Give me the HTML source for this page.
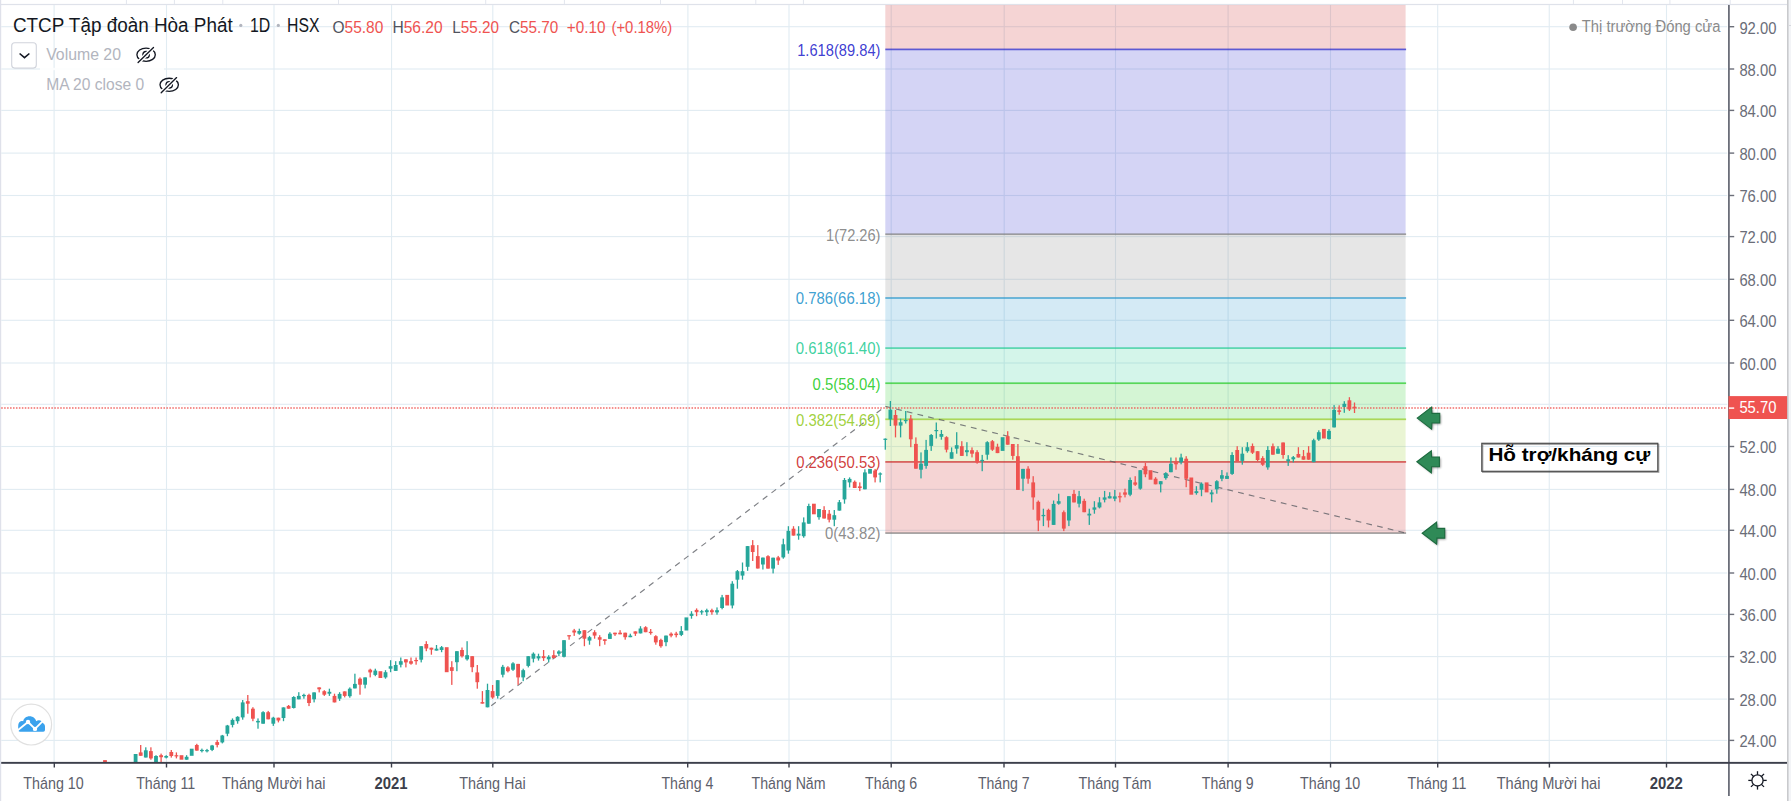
<!DOCTYPE html>
<html><head><meta charset="utf-8"><title>HPG chart</title>
<style>html,body{margin:0;padding:0;background:#fff;}body{width:1791px;height:801px;overflow:hidden;font-family:"Liberation Sans", sans-serif;}svg{display:block;}</style>
</head><body>
<svg width="1791" height="801" viewBox="0 0 1791 801">
<defs><clipPath id="plotclip"><rect x="1.2" y="5" width="1726.8" height="756.9"/></clipPath><filter id="blur1" x="-30%" y="-30%" width="160%" height="160%"><feGaussianBlur stdDeviation="1.1"/></filter><filter id="blur05" x="-10%" y="-30%" width="120%" height="160%"><feGaussianBlur stdDeviation="0.6"/></filter></defs>
<rect x="0" y="0" width="1791" height="801" fill="#ffffff"/>
<rect x="1787" y="0" width="4" height="801" fill="#f3f4f7"/>
<rect x="1787" y="0" width="1.6" height="801" fill="#c9cacd"/>
<line x1="1789" y1="25.5" x2="1791" y2="25.5" stroke="#d6d8de" stroke-width="1"/>
<rect x="0" y="3.9" width="1787" height="1.2" fill="#dfe2ea"/>
<rect x="125.9" y="0" width="1" height="4" fill="#e3e6ee"/>
<rect x="173.9" y="0" width="1" height="4" fill="#e3e6ee"/>
<rect x="222.3" y="0" width="1" height="4" fill="#e3e6ee"/>
<rect x="338.0" y="0" width="1" height="4" fill="#e3e6ee"/>
<rect x="485.2" y="0" width="1" height="4" fill="#e3e6ee"/>
<rect x="563.9" y="0" width="1" height="4" fill="#e3e6ee"/>
<rect x="660.0" y="0" width="1" height="4" fill="#e3e6ee"/>
<rect x="755.3" y="0" width="1" height="4" fill="#e3e6ee"/>
<rect x="802.9" y="0" width="1" height="4" fill="#e3e6ee"/>
<rect x="1572.9" y="0" width="1" height="4" fill="#e3e6ee"/>
<rect x="1622.0" y="0" width="1" height="4" fill="#e3e6ee"/>
<rect x="1669.4" y="0" width="1" height="4" fill="#e3e6ee"/>
<rect x="1729.7" y="0" width="1" height="4" fill="#e3e6ee"/>
<rect x="0" y="0" width="1.2" height="801" fill="#dfe1ea"/>
<rect x="53.55" y="5" width="1.1" height="757.5" fill="#e1ecf2"/>
<rect x="165.95" y="5" width="1.1" height="757.5" fill="#e1ecf2"/>
<rect x="273.45" y="5" width="1.1" height="757.5" fill="#e1ecf2"/>
<rect x="391.00" y="5" width="1.1" height="757.5" fill="#e1ecf2"/>
<rect x="492.25" y="5" width="1.1" height="757.5" fill="#e1ecf2"/>
<rect x="687.35" y="5" width="1.1" height="757.5" fill="#e1ecf2"/>
<rect x="788.45" y="5" width="1.1" height="757.5" fill="#e1ecf2"/>
<rect x="890.65" y="5" width="1.1" height="757.5" fill="#e1ecf2"/>
<rect x="1003.65" y="5" width="1.1" height="757.5" fill="#e1ecf2"/>
<rect x="1114.95" y="5" width="1.1" height="757.5" fill="#e1ecf2"/>
<rect x="1227.55" y="5" width="1.1" height="757.5" fill="#e1ecf2"/>
<rect x="1329.95" y="5" width="1.1" height="757.5" fill="#e1ecf2"/>
<rect x="1437.15" y="5" width="1.1" height="757.5" fill="#e1ecf2"/>
<rect x="1548.70" y="5" width="1.1" height="757.5" fill="#e1ecf2"/>
<rect x="1665.95" y="5" width="1.1" height="757.5" fill="#e1ecf2"/>
<rect x="1.2" y="26.15" width="1726" height="1.1" fill="#e1ecf2"/>
<rect x="1.2" y="68.45" width="1726" height="1.1" fill="#e1ecf2"/>
<rect x="1.2" y="109.85" width="1726" height="1.1" fill="#e1ecf2"/>
<rect x="1.2" y="152.55" width="1726" height="1.1" fill="#e1ecf2"/>
<rect x="1.2" y="194.95" width="1726" height="1.1" fill="#e1ecf2"/>
<rect x="1.2" y="236.05" width="1726" height="1.1" fill="#e1ecf2"/>
<rect x="1.2" y="278.75" width="1726" height="1.1" fill="#e1ecf2"/>
<rect x="1.2" y="319.75" width="1726" height="1.1" fill="#e1ecf2"/>
<rect x="1.2" y="362.45" width="1726" height="1.1" fill="#e1ecf2"/>
<rect x="1.2" y="403.75" width="1726" height="1.1" fill="#e1ecf2"/>
<rect x="1.2" y="445.95" width="1726" height="1.1" fill="#e1ecf2"/>
<rect x="1.2" y="488.85" width="1726" height="1.1" fill="#e1ecf2"/>
<rect x="1.2" y="529.75" width="1726" height="1.1" fill="#e1ecf2"/>
<rect x="1.2" y="572.45" width="1726" height="1.1" fill="#e1ecf2"/>
<rect x="1.2" y="613.85" width="1726" height="1.1" fill="#e1ecf2"/>
<rect x="1.2" y="656.05" width="1726" height="1.1" fill="#e1ecf2"/>
<rect x="1.2" y="698.55" width="1726" height="1.1" fill="#e1ecf2"/>
<rect x="1.2" y="739.85" width="1726" height="1.1" fill="#e1ecf2"/>
<rect x="885.3" y="5.0" width="520.3" height="44.4" fill="#cc2828" fill-opacity="0.2"/>
<rect x="885.3" y="49.4" width="520.3" height="184.8" fill="#2828cc" fill-opacity="0.2"/>
<rect x="885.3" y="234.2" width="520.3" height="63.8" fill="#808080" fill-opacity="0.2"/>
<rect x="885.3" y="298.0" width="520.3" height="50.1" fill="#2895cc" fill-opacity="0.2"/>
<rect x="885.3" y="348.1" width="520.3" height="35.1" fill="#28cc95" fill-opacity="0.2"/>
<rect x="885.3" y="383.2" width="520.3" height="36.1" fill="#28cc28" fill-opacity="0.2"/>
<rect x="885.3" y="419.3" width="520.3" height="42.6" fill="#95cc28" fill-opacity="0.2"/>
<rect x="885.3" y="461.9" width="520.3" height="71.2" fill="#cc2828" fill-opacity="0.2"/>
<rect x="885.3" y="48.55" width="520.8" height="1.7" fill="#2828cc" fill-opacity="0.72"/>
<rect x="885.3" y="233.35" width="520.8" height="1.7" fill="#808080" fill-opacity="0.72"/>
<rect x="885.3" y="297.15" width="520.8" height="1.7" fill="#2895cc" fill-opacity="0.72"/>
<rect x="885.3" y="347.25" width="520.8" height="1.7" fill="#28cc95" fill-opacity="0.72"/>
<rect x="885.3" y="382.35" width="520.8" height="1.7" fill="#28cc28" fill-opacity="0.72"/>
<rect x="885.3" y="418.45" width="520.8" height="1.7" fill="#95cc28" fill-opacity="0.72"/>
<rect x="885.3" y="461.05" width="520.8" height="1.7" fill="#cc2828" fill-opacity="0.72"/>
<rect x="885.3" y="532.25" width="520.8" height="1.7" fill="#808080" fill-opacity="0.72"/>
<polyline points="491.2,705.8 885.3,406.4 1405.6,533.0" fill="none" stroke="#5a5c63" stroke-width="1.15" stroke-dasharray="5.8 5.2" stroke-opacity="0.78"/>
<g clip-path="url(#plotclip)"><rect x="103.10" y="760.1" width="3.8" height="9.9" fill="#ef5350"/><rect x="133.70" y="754.0" width="3.8" height="16.0" fill="#26a69a"/><rect x="140.05" y="745.0" width="1.3" height="10.8" fill="#ef5350"/><rect x="138.80" y="752.4" width="3.8" height="3.4" fill="#ef5350"/><rect x="145.15" y="747.3" width="1.3" height="10.2" fill="#26a69a"/><rect x="143.90" y="750.3" width="3.8" height="7.2" fill="#26a69a"/><rect x="150.25" y="747.3" width="1.3" height="12.4" fill="#ef5350"/><rect x="149.00" y="751.1" width="3.8" height="7.3" fill="#ef5350"/><rect x="155.35" y="755.2" width="1.3" height="14.8" fill="#26a69a"/><rect x="154.10" y="756.0" width="3.8" height="14.0" fill="#26a69a"/><rect x="160.45" y="753.6" width="1.3" height="8.4" fill="#ef5350"/><rect x="159.20" y="755.2" width="3.8" height="2.0" fill="#ef5350"/><rect x="165.55" y="755.2" width="1.3" height="3.2" fill="#26a69a"/><rect x="164.30" y="756.0" width="3.8" height="1.6" fill="#26a69a"/><rect x="170.65" y="750.0" width="1.3" height="7.6" fill="#ef5350"/><rect x="169.40" y="752.0" width="3.8" height="4.0" fill="#ef5350"/><rect x="175.75" y="752.4" width="1.3" height="6.0" fill="#ef5350"/><rect x="174.50" y="755.2" width="3.8" height="1.2" fill="#ef5350"/><rect x="179.60" y="755.2" width="3.8" height="4.5" fill="#ef5350"/><rect x="185.95" y="755.2" width="1.3" height="4.5" fill="#26a69a"/><rect x="184.70" y="756.8" width="3.8" height="2.9" fill="#26a69a"/><rect x="189.80" y="748.7" width="3.8" height="7.1" fill="#26a69a"/><rect x="196.15" y="743.8" width="1.3" height="6.9" fill="#ef5350"/><rect x="194.90" y="745.0" width="3.8" height="5.6" fill="#ef5350"/><rect x="201.25" y="748.6" width="1.3" height="3.8" fill="#26a69a"/><rect x="200.00" y="749.9" width="3.8" height="1.2" fill="#26a69a"/><rect x="206.35" y="748.9" width="1.3" height="3.5" fill="#26a69a"/><rect x="205.10" y="750.1" width="3.8" height="1.2" fill="#26a69a"/><rect x="211.45" y="744.9" width="1.3" height="6.2" fill="#26a69a"/><rect x="210.20" y="745.5" width="3.8" height="4.4" fill="#26a69a"/><rect x="216.55" y="739.9" width="1.3" height="7.5" fill="#ef5350"/><rect x="215.30" y="742.1" width="3.8" height="2.8" fill="#ef5350"/><rect x="221.65" y="734.9" width="1.3" height="8.5" fill="#26a69a"/><rect x="220.40" y="735.5" width="3.8" height="6.9" fill="#26a69a"/><rect x="226.75" y="724.9" width="1.3" height="11.3" fill="#26a69a"/><rect x="225.50" y="725.5" width="3.8" height="8.2" fill="#26a69a"/><rect x="231.85" y="718.4" width="1.3" height="9.0" fill="#26a69a"/><rect x="230.60" y="719.9" width="3.8" height="5.0" fill="#26a69a"/><rect x="236.95" y="716.2" width="1.3" height="7.5" fill="#26a69a"/><rect x="235.70" y="716.8" width="3.8" height="4.4" fill="#26a69a"/><rect x="242.05" y="700.0" width="1.3" height="19.7" fill="#26a69a"/><rect x="240.80" y="702.4" width="3.8" height="15.0" fill="#26a69a"/><rect x="247.15" y="695.0" width="1.3" height="18.7" fill="#ef5350"/><rect x="245.90" y="701.2" width="3.8" height="2.5" fill="#ef5350"/><rect x="252.25" y="707.2" width="1.3" height="14.0" fill="#ef5350"/><rect x="251.00" y="708.7" width="3.8" height="10.0" fill="#ef5350"/><rect x="257.35" y="718.4" width="1.3" height="10.3" fill="#26a69a"/><rect x="256.10" y="720.9" width="3.8" height="1.5" fill="#26a69a"/><rect x="262.45" y="711.2" width="1.3" height="12.5" fill="#26a69a"/><rect x="261.20" y="712.2" width="3.8" height="11.5" fill="#26a69a"/><rect x="267.55" y="710.9" width="1.3" height="8.4" fill="#ef5350"/><rect x="266.30" y="712.2" width="3.8" height="7.1" fill="#ef5350"/><rect x="272.65" y="716.8" width="1.3" height="9.1" fill="#26a69a"/><rect x="271.40" y="717.7" width="3.8" height="6.0" fill="#26a69a"/><rect x="277.75" y="717.7" width="1.3" height="4.7" fill="#ef5350"/><rect x="276.50" y="717.7" width="3.8" height="2.8" fill="#ef5350"/><rect x="282.85" y="707.4" width="1.3" height="13.8" fill="#26a69a"/><rect x="281.60" y="707.4" width="3.8" height="10.6" fill="#26a69a"/><rect x="287.95" y="705.0" width="1.3" height="3.7" fill="#ef5350"/><rect x="286.70" y="705.9" width="3.8" height="2.8" fill="#ef5350"/><rect x="293.05" y="696.2" width="1.3" height="12.3" fill="#26a69a"/><rect x="291.80" y="697.0" width="3.8" height="11.0" fill="#26a69a"/><rect x="298.15" y="692.2" width="1.3" height="7.1" fill="#26a69a"/><rect x="296.90" y="695.9" width="3.8" height="3.4" fill="#26a69a"/><rect x="303.25" y="693.7" width="1.3" height="5.0" fill="#26a69a"/><rect x="302.00" y="694.9" width="3.8" height="1.3" fill="#26a69a"/><rect x="308.35" y="693.7" width="1.3" height="12.4" fill="#ef5350"/><rect x="307.10" y="694.9" width="3.8" height="8.1" fill="#ef5350"/><rect x="313.45" y="692.4" width="1.3" height="10.0" fill="#26a69a"/><rect x="312.20" y="692.4" width="3.8" height="6.9" fill="#26a69a"/><rect x="318.55" y="687.4" width="1.3" height="5.0" fill="#ef5350"/><rect x="317.30" y="687.4" width="3.8" height="1.9" fill="#ef5350"/><rect x="323.65" y="690.2" width="1.3" height="5.7" fill="#ef5350"/><rect x="322.40" y="691.2" width="3.8" height="3.5" fill="#ef5350"/><rect x="328.75" y="688.7" width="1.3" height="7.2" fill="#26a69a"/><rect x="327.50" y="691.8" width="3.8" height="1.9" fill="#26a69a"/><rect x="333.85" y="693.7" width="1.3" height="8.7" fill="#ef5350"/><rect x="332.60" y="695.9" width="3.8" height="6.5" fill="#ef5350"/><rect x="338.95" y="692.2" width="1.3" height="8.7" fill="#26a69a"/><rect x="337.70" y="693.9" width="3.8" height="4.8" fill="#26a69a"/><rect x="344.05" y="691.4" width="1.3" height="6.0" fill="#ef5350"/><rect x="342.80" y="691.4" width="3.8" height="4.5" fill="#ef5350"/><rect x="349.15" y="687.4" width="1.3" height="10.3" fill="#26a69a"/><rect x="347.90" y="688.7" width="3.8" height="7.5" fill="#26a69a"/><rect x="354.25" y="673.7" width="1.3" height="14.7" fill="#26a69a"/><rect x="353.00" y="683.9" width="3.8" height="4.5" fill="#26a69a"/><rect x="359.35" y="677.4" width="1.3" height="17.3" fill="#ef5350"/><rect x="358.10" y="678.7" width="3.8" height="6.0" fill="#ef5350"/><rect x="364.45" y="677.4" width="1.3" height="11.0" fill="#26a69a"/><rect x="363.20" y="677.4" width="3.8" height="7.3" fill="#26a69a"/><rect x="369.55" y="668.7" width="1.3" height="8.7" fill="#ef5350"/><rect x="368.30" y="669.7" width="3.8" height="2.7" fill="#ef5350"/><rect x="374.65" y="668.7" width="1.3" height="7.5" fill="#26a69a"/><rect x="373.40" y="670.6" width="3.8" height="4.3" fill="#26a69a"/><rect x="378.50" y="671.2" width="3.8" height="6.8" fill="#ef5350"/><rect x="384.85" y="670.2" width="1.3" height="8.5" fill="#26a69a"/><rect x="383.60" y="672.2" width="3.8" height="5.2" fill="#26a69a"/><rect x="389.95" y="660.2" width="1.3" height="12.0" fill="#26a69a"/><rect x="388.70" y="666.2" width="3.8" height="2.5" fill="#26a69a"/><rect x="395.05" y="661.2" width="1.3" height="9.7" fill="#26a69a"/><rect x="393.80" y="665.0" width="3.8" height="5.9" fill="#26a69a"/><rect x="400.15" y="657.5" width="1.3" height="9.9" fill="#26a69a"/><rect x="398.90" y="661.2" width="3.8" height="3.5" fill="#26a69a"/><rect x="405.25" y="659.3" width="1.3" height="8.1" fill="#ef5350"/><rect x="404.00" y="659.3" width="3.8" height="3.1" fill="#ef5350"/><rect x="410.35" y="657.5" width="1.3" height="7.2" fill="#ef5350"/><rect x="409.10" y="661.2" width="3.8" height="2.5" fill="#ef5350"/><rect x="415.45" y="657.5" width="1.3" height="7.2" fill="#ef5350"/><rect x="414.20" y="660.0" width="3.8" height="1.2" fill="#ef5350"/><rect x="420.55" y="646.2" width="1.3" height="16.2" fill="#26a69a"/><rect x="419.30" y="646.2" width="3.8" height="13.5" fill="#26a69a"/><rect x="425.65" y="641.2" width="1.3" height="10.0" fill="#ef5350"/><rect x="424.40" y="644.0" width="3.8" height="4.5" fill="#ef5350"/><rect x="430.75" y="647.7" width="1.3" height="7.0" fill="#ef5350"/><rect x="429.50" y="647.7" width="3.8" height="2.0" fill="#ef5350"/><rect x="435.85" y="645.0" width="1.3" height="5.6" fill="#26a69a"/><rect x="434.60" y="648.7" width="3.8" height="1.9" fill="#26a69a"/><rect x="440.95" y="646.0" width="1.3" height="6.2" fill="#26a69a"/><rect x="439.70" y="647.2" width="3.8" height="2.8" fill="#26a69a"/><rect x="444.80" y="647.2" width="3.8" height="25.0" fill="#ef5350"/><rect x="451.15" y="661.2" width="1.3" height="23.7" fill="#ef5350"/><rect x="449.90" y="667.2" width="3.8" height="3.7" fill="#ef5350"/><rect x="456.25" y="651.2" width="1.3" height="20.0" fill="#26a69a"/><rect x="455.00" y="651.2" width="3.8" height="11.0" fill="#26a69a"/><rect x="461.35" y="647.5" width="1.3" height="10.0" fill="#ef5350"/><rect x="460.10" y="650.0" width="3.8" height="6.2" fill="#ef5350"/><rect x="466.45" y="641.2" width="1.3" height="19.4" fill="#26a69a"/><rect x="465.20" y="655.2" width="3.8" height="4.1" fill="#26a69a"/><rect x="471.55" y="656.2" width="1.3" height="16.0" fill="#ef5350"/><rect x="470.30" y="656.2" width="3.8" height="11.0" fill="#ef5350"/><rect x="476.65" y="665.0" width="1.3" height="23.7" fill="#ef5350"/><rect x="475.40" y="672.4" width="3.8" height="9.8" fill="#ef5350"/><rect x="481.75" y="691.1" width="1.3" height="12.5" fill="#ef5350"/><rect x="480.50" y="702.1" width="3.8" height="1.5" fill="#ef5350"/><rect x="486.85" y="683.7" width="1.3" height="23.6" fill="#26a69a"/><rect x="485.60" y="690.0" width="3.8" height="17.3" fill="#26a69a"/><rect x="491.95" y="685.0" width="1.3" height="13.8" fill="#ef5350"/><rect x="490.70" y="691.1" width="3.8" height="6.4" fill="#ef5350"/><rect x="497.05" y="680.2" width="1.3" height="18.4" fill="#26a69a"/><rect x="495.80" y="680.2" width="3.8" height="15.7" fill="#26a69a"/><rect x="502.15" y="664.9" width="1.3" height="12.5" fill="#26a69a"/><rect x="500.90" y="666.8" width="3.8" height="7.9" fill="#26a69a"/><rect x="507.25" y="666.2" width="1.3" height="6.2" fill="#ef5350"/><rect x="506.00" y="667.4" width="3.8" height="3.8" fill="#ef5350"/><rect x="512.35" y="662.2" width="1.3" height="8.7" fill="#26a69a"/><rect x="511.10" y="663.4" width="3.8" height="6.3" fill="#26a69a"/><rect x="517.45" y="663.9" width="1.3" height="21.0" fill="#ef5350"/><rect x="516.20" y="663.9" width="3.8" height="13.5" fill="#ef5350"/><rect x="522.55" y="668.7" width="1.3" height="12.5" fill="#26a69a"/><rect x="521.30" y="670.2" width="3.8" height="7.2" fill="#26a69a"/><rect x="527.65" y="656.2" width="1.3" height="11.2" fill="#26a69a"/><rect x="526.40" y="656.2" width="3.8" height="9.7" fill="#26a69a"/><rect x="532.75" y="652.4" width="1.3" height="10.0" fill="#26a69a"/><rect x="531.50" y="653.7" width="3.8" height="5.0" fill="#26a69a"/><rect x="537.85" y="653.7" width="1.3" height="6.9" fill="#26a69a"/><rect x="536.60" y="656.2" width="3.8" height="2.2" fill="#26a69a"/><rect x="542.95" y="650.0" width="1.3" height="10.9" fill="#ef5350"/><rect x="541.70" y="656.2" width="3.8" height="1.9" fill="#ef5350"/><rect x="548.05" y="655.2" width="1.3" height="7.2" fill="#26a69a"/><rect x="546.80" y="656.8" width="3.8" height="2.5" fill="#26a69a"/><rect x="553.15" y="650.2" width="1.3" height="7.9" fill="#ef5350"/><rect x="551.90" y="655.2" width="3.8" height="2.9" fill="#ef5350"/><rect x="558.25" y="650.2" width="1.3" height="5.8" fill="#26a69a"/><rect x="557.00" y="651.4" width="3.8" height="2.3" fill="#26a69a"/><rect x="563.35" y="640.2" width="1.3" height="17.2" fill="#26a69a"/><rect x="562.10" y="640.2" width="3.8" height="16.6" fill="#26a69a"/><rect x="568.45" y="635.2" width="1.3" height="4.5" fill="#ef5350"/><rect x="567.20" y="635.2" width="3.8" height="1.2" fill="#ef5350"/><rect x="573.55" y="628.9" width="1.3" height="7.0" fill="#ef5350"/><rect x="572.30" y="630.5" width="3.8" height="2.0" fill="#ef5350"/><rect x="578.65" y="628.7" width="1.3" height="6.0" fill="#26a69a"/><rect x="577.40" y="631.0" width="3.8" height="2.7" fill="#26a69a"/><rect x="583.75" y="630.2" width="1.3" height="16.0" fill="#ef5350"/><rect x="582.50" y="630.2" width="3.8" height="8.5" fill="#ef5350"/><rect x="588.85" y="635.9" width="1.3" height="8.8" fill="#26a69a"/><rect x="587.60" y="637.2" width="3.8" height="3.4" fill="#26a69a"/><rect x="593.95" y="630.2" width="1.3" height="8.5" fill="#ef5350"/><rect x="592.70" y="632.2" width="3.8" height="3.4" fill="#ef5350"/><rect x="599.05" y="635.2" width="1.3" height="11.0" fill="#ef5350"/><rect x="597.80" y="637.2" width="3.8" height="2.5" fill="#ef5350"/><rect x="604.15" y="639.3" width="1.3" height="5.4" fill="#ef5350"/><rect x="602.90" y="639.3" width="3.8" height="1.6" fill="#ef5350"/><rect x="609.25" y="632.2" width="1.3" height="6.7" fill="#26a69a"/><rect x="608.00" y="633.7" width="3.8" height="5.2" fill="#26a69a"/><rect x="614.35" y="632.7" width="1.3" height="3.2" fill="#ef5350"/><rect x="613.10" y="632.7" width="3.8" height="1.6" fill="#ef5350"/><rect x="619.45" y="630.2" width="1.3" height="4.1" fill="#ef5350"/><rect x="618.20" y="632.7" width="3.8" height="1.6" fill="#ef5350"/><rect x="624.55" y="632.7" width="1.3" height="7.0" fill="#ef5350"/><rect x="623.30" y="632.7" width="3.8" height="4.5" fill="#ef5350"/><rect x="629.65" y="633.7" width="1.3" height="3.5" fill="#26a69a"/><rect x="628.40" y="635.6" width="3.8" height="1.6" fill="#26a69a"/><rect x="634.75" y="631.4" width="1.3" height="4.5" fill="#ef5350"/><rect x="633.50" y="631.4" width="3.8" height="2.3" fill="#ef5350"/><rect x="639.85" y="626.2" width="1.3" height="7.2" fill="#26a69a"/><rect x="638.60" y="628.5" width="3.8" height="4.9" fill="#26a69a"/><rect x="644.95" y="626.2" width="1.3" height="6.0" fill="#ef5350"/><rect x="643.70" y="627.2" width="3.8" height="5.0" fill="#ef5350"/><rect x="650.05" y="629.0" width="1.3" height="5.7" fill="#ef5350"/><rect x="648.80" y="631.8" width="3.8" height="1.3" fill="#ef5350"/><rect x="655.15" y="635.2" width="1.3" height="9.5" fill="#ef5350"/><rect x="653.90" y="636.2" width="3.8" height="6.2" fill="#ef5350"/><rect x="660.25" y="638.7" width="1.3" height="9.0" fill="#ef5350"/><rect x="659.00" y="639.9" width="3.8" height="6.3" fill="#ef5350"/><rect x="665.35" y="635.6" width="1.3" height="10.6" fill="#26a69a"/><rect x="664.10" y="635.6" width="3.8" height="6.6" fill="#26a69a"/><rect x="670.45" y="632.4" width="1.3" height="4.9" fill="#ef5350"/><rect x="669.20" y="633.7" width="3.8" height="1.9" fill="#ef5350"/><rect x="675.55" y="631.8" width="1.3" height="5.6" fill="#ef5350"/><rect x="674.30" y="633.6" width="3.8" height="1.5" fill="#ef5350"/><rect x="680.65" y="626.1" width="1.3" height="10.0" fill="#26a69a"/><rect x="679.40" y="631.1" width="3.8" height="3.8" fill="#26a69a"/><rect x="684.50" y="617.4" width="3.8" height="13.1" fill="#26a69a"/><rect x="690.85" y="611.2" width="1.3" height="7.5" fill="#26a69a"/><rect x="689.60" y="613.7" width="3.8" height="2.2" fill="#26a69a"/><rect x="695.95" y="608.4" width="1.3" height="7.8" fill="#ef5350"/><rect x="694.70" y="609.9" width="3.8" height="2.3" fill="#ef5350"/><rect x="701.05" y="609.9" width="1.3" height="4.8" fill="#26a69a"/><rect x="699.80" y="611.2" width="3.8" height="1.2" fill="#26a69a"/><rect x="706.15" y="608.7" width="1.3" height="7.2" fill="#26a69a"/><rect x="704.90" y="610.2" width="3.8" height="2.0" fill="#26a69a"/><rect x="711.25" y="608.7" width="1.3" height="6.0" fill="#ef5350"/><rect x="710.00" y="610.2" width="3.8" height="2.0" fill="#ef5350"/><rect x="716.35" y="607.4" width="1.3" height="7.3" fill="#26a69a"/><rect x="715.10" y="610.2" width="3.8" height="2.2" fill="#26a69a"/><rect x="721.45" y="594.9" width="1.3" height="14.4" fill="#26a69a"/><rect x="720.20" y="597.4" width="3.8" height="10.6" fill="#26a69a"/><rect x="725.30" y="594.9" width="3.8" height="10.6" fill="#ef5350"/><rect x="731.65" y="581.2" width="1.3" height="27.2" fill="#26a69a"/><rect x="730.40" y="583.7" width="3.8" height="21.8" fill="#26a69a"/><rect x="736.75" y="570.0" width="1.3" height="18.7" fill="#26a69a"/><rect x="735.50" y="571.2" width="3.8" height="8.5" fill="#26a69a"/><rect x="741.85" y="562.5" width="1.3" height="17.2" fill="#26a69a"/><rect x="740.60" y="571.2" width="3.8" height="4.4" fill="#26a69a"/><rect x="746.95" y="546.0" width="1.3" height="24.8" fill="#26a69a"/><rect x="745.70" y="546.1" width="3.8" height="20.7" fill="#26a69a"/><rect x="752.05" y="540.1" width="1.3" height="20.9" fill="#ef5350"/><rect x="750.80" y="545.2" width="3.8" height="6.8" fill="#ef5350"/><rect x="757.15" y="545.1" width="1.3" height="23.4" fill="#ef5350"/><rect x="755.90" y="556.1" width="3.8" height="12.4" fill="#ef5350"/><rect x="762.25" y="557.6" width="1.3" height="11.9" fill="#26a69a"/><rect x="761.00" y="557.6" width="3.8" height="6.9" fill="#26a69a"/><rect x="767.35" y="555.2" width="1.3" height="13.4" fill="#ef5350"/><rect x="766.10" y="556.2" width="3.8" height="12.4" fill="#ef5350"/><rect x="772.45" y="557.7" width="1.3" height="15.7" fill="#26a69a"/><rect x="771.20" y="557.7" width="3.8" height="10.9" fill="#26a69a"/><rect x="777.55" y="555.9" width="1.3" height="9.0" fill="#ef5350"/><rect x="776.30" y="557.4" width="3.8" height="3.1" fill="#ef5350"/><rect x="782.65" y="538.7" width="1.3" height="20.0" fill="#26a69a"/><rect x="781.40" y="544.3" width="3.8" height="13.1" fill="#26a69a"/><rect x="787.75" y="526.2" width="1.3" height="27.5" fill="#26a69a"/><rect x="786.50" y="530.9" width="3.8" height="19.6" fill="#26a69a"/><rect x="792.85" y="526.2" width="1.3" height="9.4" fill="#ef5350"/><rect x="791.60" y="528.7" width="3.8" height="6.9" fill="#ef5350"/><rect x="797.95" y="526.2" width="1.3" height="13.5" fill="#26a69a"/><rect x="796.70" y="533.7" width="3.8" height="1.9" fill="#26a69a"/><rect x="803.05" y="517.4" width="1.3" height="20.3" fill="#26a69a"/><rect x="801.80" y="522.4" width="3.8" height="13.8" fill="#26a69a"/><rect x="808.15" y="503.7" width="1.3" height="20.0" fill="#26a69a"/><rect x="806.90" y="506.0" width="3.8" height="17.7" fill="#26a69a"/><rect x="812.00" y="503.7" width="3.8" height="10.6" fill="#ef5350"/><rect x="818.35" y="509.0" width="1.3" height="10.7" fill="#26a69a"/><rect x="817.10" y="509.0" width="3.8" height="8.2" fill="#26a69a"/><rect x="823.45" y="506.2" width="1.3" height="12.3" fill="#ef5350"/><rect x="822.20" y="510.0" width="3.8" height="8.5" fill="#ef5350"/><rect x="828.55" y="510.0" width="1.3" height="12.4" fill="#ef5350"/><rect x="827.30" y="513.7" width="3.8" height="6.0" fill="#ef5350"/><rect x="833.65" y="510.0" width="1.3" height="16.2" fill="#26a69a"/><rect x="832.40" y="515.2" width="3.8" height="4.5" fill="#26a69a"/><rect x="838.75" y="500.0" width="1.3" height="10.6" fill="#26a69a"/><rect x="837.50" y="502.2" width="3.8" height="8.4" fill="#26a69a"/><rect x="843.85" y="478.0" width="1.3" height="25.7" fill="#26a69a"/><rect x="842.60" y="480.0" width="3.8" height="19.4" fill="#26a69a"/><rect x="848.95" y="477.4" width="1.3" height="10.0" fill="#26a69a"/><rect x="847.70" y="478.9" width="3.8" height="3.5" fill="#26a69a"/><rect x="854.05" y="480.5" width="1.3" height="7.5" fill="#ef5350"/><rect x="852.80" y="481.8" width="3.8" height="6.2" fill="#ef5350"/><rect x="859.15" y="482.4" width="1.3" height="8.7" fill="#ef5350"/><rect x="857.90" y="486.4" width="3.8" height="1.6" fill="#ef5350"/><rect x="864.25" y="469.3" width="1.3" height="20.0" fill="#26a69a"/><rect x="863.00" y="472.4" width="3.8" height="16.9" fill="#26a69a"/><rect x="868.10" y="468.9" width="3.8" height="4.8" fill="#26a69a"/><rect x="874.45" y="468.9" width="1.3" height="13.5" fill="#ef5350"/><rect x="873.20" y="470.5" width="3.8" height="6.9" fill="#ef5350"/><rect x="879.55" y="472.4" width="1.3" height="10.0" fill="#26a69a"/><rect x="878.30" y="473.4" width="3.8" height="1.2" fill="#26a69a"/><rect x="884.65" y="438.4" width="1.3" height="11.3" fill="#26a69a"/><rect x="883.40" y="438.7" width="3.8" height="1.2" fill="#26a69a"/><rect x="889.75" y="401.0" width="1.3" height="25.0" fill="#26a69a"/><rect x="888.50" y="409.7" width="3.8" height="9.6" fill="#26a69a"/><rect x="894.85" y="410.0" width="1.3" height="27.4" fill="#ef5350"/><rect x="893.60" y="415.0" width="3.8" height="10.6" fill="#ef5350"/><rect x="899.95" y="418.7" width="1.3" height="18.7" fill="#26a69a"/><rect x="898.70" y="422.2" width="3.8" height="3.4" fill="#26a69a"/><rect x="905.05" y="411.0" width="1.3" height="12.5" fill="#26a69a"/><rect x="903.80" y="420.0" width="3.8" height="1.2" fill="#26a69a"/><rect x="910.15" y="415.0" width="1.3" height="32.2" fill="#ef5350"/><rect x="908.90" y="418.7" width="3.8" height="20.6" fill="#ef5350"/><rect x="915.25" y="437.4" width="1.3" height="31.3" fill="#ef5350"/><rect x="914.00" y="443.9" width="3.8" height="24.8" fill="#ef5350"/><rect x="920.35" y="452.4" width="1.3" height="26.0" fill="#26a69a"/><rect x="919.10" y="463.7" width="3.8" height="6.0" fill="#26a69a"/><rect x="925.45" y="439.9" width="1.3" height="28.8" fill="#26a69a"/><rect x="924.20" y="449.9" width="3.8" height="16.0" fill="#26a69a"/><rect x="930.55" y="434.0" width="1.3" height="16.9" fill="#26a69a"/><rect x="929.30" y="435.0" width="3.8" height="10.9" fill="#26a69a"/><rect x="935.65" y="422.5" width="1.3" height="16.0" fill="#26a69a"/><rect x="934.40" y="430.0" width="3.8" height="1.2" fill="#26a69a"/><rect x="940.75" y="430.0" width="1.3" height="9.7" fill="#26a69a"/><rect x="939.50" y="434.0" width="3.8" height="2.8" fill="#26a69a"/><rect x="945.85" y="436.2" width="1.3" height="16.2" fill="#ef5350"/><rect x="944.60" y="437.2" width="3.8" height="12.5" fill="#ef5350"/><rect x="950.95" y="447.4" width="1.3" height="11.3" fill="#26a69a"/><rect x="949.70" y="452.2" width="3.8" height="6.5" fill="#26a69a"/><rect x="956.05" y="432.2" width="1.3" height="21.5" fill="#26a69a"/><rect x="954.80" y="445.2" width="3.8" height="3.5" fill="#26a69a"/><rect x="961.15" y="441.2" width="1.3" height="14.7" fill="#ef5350"/><rect x="959.90" y="446.2" width="3.8" height="9.7" fill="#ef5350"/><rect x="966.25" y="442.2" width="1.3" height="14.0" fill="#26a69a"/><rect x="965.00" y="450.2" width="3.8" height="2.0" fill="#26a69a"/><rect x="971.35" y="447.4" width="1.3" height="10.0" fill="#ef5350"/><rect x="970.10" y="450.2" width="3.8" height="3.5" fill="#ef5350"/><rect x="976.45" y="450.2" width="1.3" height="13.5" fill="#ef5350"/><rect x="975.20" y="452.2" width="3.8" height="10.2" fill="#ef5350"/><rect x="981.55" y="454.9" width="1.3" height="16.3" fill="#26a69a"/><rect x="980.30" y="459.9" width="3.8" height="1.3" fill="#26a69a"/><rect x="986.65" y="441.2" width="1.3" height="18.5" fill="#26a69a"/><rect x="985.40" y="442.2" width="3.8" height="12.5" fill="#26a69a"/><rect x="991.75" y="440.0" width="1.3" height="10.9" fill="#ef5350"/><rect x="990.50" y="441.2" width="3.8" height="8.5" fill="#ef5350"/><rect x="996.85" y="443.7" width="1.3" height="9.4" fill="#ef5350"/><rect x="995.60" y="446.8" width="3.8" height="6.3" fill="#ef5350"/><rect x="1000.70" y="437.2" width="3.8" height="13.7" fill="#26a69a"/><rect x="1007.05" y="431.2" width="1.3" height="13.5" fill="#ef5350"/><rect x="1005.80" y="436.2" width="3.8" height="8.5" fill="#ef5350"/><rect x="1012.15" y="444.0" width="1.3" height="15.7" fill="#ef5350"/><rect x="1010.90" y="444.0" width="3.8" height="11.9" fill="#ef5350"/><rect x="1017.25" y="444.0" width="1.3" height="45.9" fill="#ef5350"/><rect x="1016.00" y="456.2" width="3.8" height="33.7" fill="#ef5350"/><rect x="1022.35" y="468.9" width="1.3" height="22.2" fill="#26a69a"/><rect x="1021.10" y="468.9" width="3.8" height="9.8" fill="#26a69a"/><rect x="1027.45" y="466.2" width="1.3" height="17.5" fill="#ef5350"/><rect x="1026.20" y="468.7" width="3.8" height="10.0" fill="#ef5350"/><rect x="1032.55" y="476.2" width="1.3" height="33.5" fill="#ef5350"/><rect x="1031.30" y="482.4" width="3.8" height="15.0" fill="#ef5350"/><rect x="1037.65" y="500.5" width="1.3" height="30.6" fill="#ef5350"/><rect x="1036.40" y="501.8" width="3.8" height="18.7" fill="#ef5350"/><rect x="1042.75" y="508.7" width="1.3" height="17.4" fill="#26a69a"/><rect x="1041.50" y="514.9" width="3.8" height="1.3" fill="#26a69a"/><rect x="1047.85" y="508.7" width="1.3" height="18.7" fill="#ef5350"/><rect x="1046.60" y="509.9" width="3.8" height="10.6" fill="#ef5350"/><rect x="1052.95" y="500.5" width="1.3" height="24.4" fill="#26a69a"/><rect x="1051.70" y="503.9" width="3.8" height="21.0" fill="#26a69a"/><rect x="1058.05" y="493.7" width="1.3" height="11.0" fill="#26a69a"/><rect x="1056.80" y="501.2" width="3.8" height="2.5" fill="#26a69a"/><rect x="1063.15" y="510.5" width="1.3" height="20.6" fill="#ef5350"/><rect x="1061.90" y="512.2" width="3.8" height="16.4" fill="#ef5350"/><rect x="1068.25" y="496.2" width="1.3" height="29.9" fill="#26a69a"/><rect x="1067.00" y="496.2" width="3.8" height="24.3" fill="#26a69a"/><rect x="1073.35" y="489.9" width="1.3" height="12.5" fill="#ef5350"/><rect x="1072.10" y="493.9" width="3.8" height="8.5" fill="#ef5350"/><rect x="1078.45" y="490.9" width="1.3" height="16.5" fill="#26a69a"/><rect x="1077.20" y="496.2" width="3.8" height="7.5" fill="#26a69a"/><rect x="1083.55" y="498.7" width="1.3" height="13.5" fill="#ef5350"/><rect x="1082.30" y="500.9" width="3.8" height="11.3" fill="#ef5350"/><rect x="1088.65" y="508.7" width="1.3" height="16.2" fill="#26a69a"/><rect x="1087.40" y="513.7" width="3.8" height="1.8" fill="#26a69a"/><rect x="1093.75" y="501.2" width="1.3" height="12.5" fill="#26a69a"/><rect x="1092.50" y="507.4" width="3.8" height="2.3" fill="#26a69a"/><rect x="1098.85" y="497.2" width="1.3" height="11.2" fill="#26a69a"/><rect x="1097.60" y="502.4" width="3.8" height="5.0" fill="#26a69a"/><rect x="1103.95" y="490.9" width="1.3" height="11.5" fill="#26a69a"/><rect x="1102.70" y="497.4" width="3.8" height="2.3" fill="#26a69a"/><rect x="1109.05" y="492.2" width="1.3" height="6.2" fill="#26a69a"/><rect x="1107.80" y="496.2" width="3.8" height="2.2" fill="#26a69a"/><rect x="1114.15" y="489.9" width="1.3" height="11.3" fill="#26a69a"/><rect x="1112.90" y="496.4" width="3.8" height="2.3" fill="#26a69a"/><rect x="1119.25" y="492.4" width="1.3" height="10.0" fill="#ef5350"/><rect x="1118.00" y="496.2" width="3.8" height="1.2" fill="#ef5350"/><rect x="1124.35" y="488.7" width="1.3" height="8.7" fill="#ef5350"/><rect x="1123.10" y="492.4" width="3.8" height="2.3" fill="#ef5350"/><rect x="1129.45" y="477.5" width="1.3" height="18.7" fill="#26a69a"/><rect x="1128.20" y="480.0" width="3.8" height="14.7" fill="#26a69a"/><rect x="1134.55" y="476.2" width="1.3" height="9.7" fill="#ef5350"/><rect x="1133.30" y="482.4" width="3.8" height="2.3" fill="#ef5350"/><rect x="1139.65" y="470.2" width="1.3" height="19.5" fill="#26a69a"/><rect x="1138.40" y="470.2" width="3.8" height="18.5" fill="#26a69a"/><rect x="1144.75" y="462.7" width="1.3" height="14.5" fill="#ef5350"/><rect x="1143.50" y="466.2" width="3.8" height="8.1" fill="#ef5350"/><rect x="1148.60" y="470.2" width="3.8" height="9.5" fill="#ef5350"/><rect x="1154.95" y="477.2" width="1.3" height="7.1" fill="#ef5350"/><rect x="1153.70" y="478.7" width="3.8" height="5.6" fill="#ef5350"/><rect x="1160.05" y="481.2" width="1.3" height="11.2" fill="#26a69a"/><rect x="1158.80" y="481.2" width="3.8" height="3.1" fill="#26a69a"/><rect x="1165.15" y="472.2" width="1.3" height="7.5" fill="#26a69a"/><rect x="1163.90" y="473.1" width="3.8" height="5.0" fill="#26a69a"/><rect x="1170.25" y="457.5" width="1.3" height="14.7" fill="#26a69a"/><rect x="1169.00" y="463.7" width="3.8" height="8.5" fill="#26a69a"/><rect x="1175.35" y="457.5" width="1.3" height="12.2" fill="#ef5350"/><rect x="1174.10" y="462.2" width="3.8" height="2.1" fill="#ef5350"/><rect x="1180.45" y="453.7" width="1.3" height="10.6" fill="#26a69a"/><rect x="1179.20" y="457.5" width="3.8" height="4.7" fill="#26a69a"/><rect x="1185.55" y="456.2" width="1.3" height="31.0" fill="#ef5350"/><rect x="1184.30" y="458.7" width="3.8" height="20.0" fill="#ef5350"/><rect x="1189.40" y="477.5" width="3.8" height="17.2" fill="#ef5350"/><rect x="1195.75" y="486.2" width="1.3" height="8.5" fill="#26a69a"/><rect x="1194.50" y="491.2" width="3.8" height="1.9" fill="#26a69a"/><rect x="1200.85" y="482.4" width="1.3" height="13.8" fill="#26a69a"/><rect x="1199.60" y="483.7" width="3.8" height="6.0" fill="#26a69a"/><rect x="1204.70" y="482.4" width="3.8" height="10.0" fill="#ef5350"/><rect x="1211.05" y="489.9" width="1.3" height="12.5" fill="#26a69a"/><rect x="1209.80" y="492.4" width="3.8" height="1.9" fill="#26a69a"/><rect x="1216.15" y="480.2" width="1.3" height="13.5" fill="#26a69a"/><rect x="1214.90" y="481.2" width="3.8" height="8.1" fill="#26a69a"/><rect x="1221.25" y="470.0" width="1.3" height="11.2" fill="#26a69a"/><rect x="1220.00" y="475.2" width="3.8" height="3.5" fill="#26a69a"/><rect x="1226.35" y="472.4" width="1.3" height="6.5" fill="#26a69a"/><rect x="1225.10" y="475.9" width="3.8" height="3.0" fill="#26a69a"/><rect x="1231.45" y="452.2" width="1.3" height="22.7" fill="#26a69a"/><rect x="1230.20" y="455.0" width="3.8" height="18.9" fill="#26a69a"/><rect x="1236.55" y="446.2" width="1.3" height="15.2" fill="#ef5350"/><rect x="1235.30" y="450.0" width="3.8" height="11.4" fill="#ef5350"/><rect x="1241.65" y="447.2" width="1.3" height="17.5" fill="#26a69a"/><rect x="1240.40" y="453.7" width="3.8" height="7.2" fill="#26a69a"/><rect x="1246.75" y="442.2" width="1.3" height="10.5" fill="#26a69a"/><rect x="1245.50" y="447.2" width="3.8" height="4.0" fill="#26a69a"/><rect x="1251.85" y="443.5" width="1.3" height="10.5" fill="#ef5350"/><rect x="1250.60" y="446.0" width="3.8" height="6.7" fill="#ef5350"/><rect x="1256.95" y="451.2" width="1.3" height="10.0" fill="#ef5350"/><rect x="1255.70" y="451.2" width="3.8" height="8.8" fill="#ef5350"/><rect x="1262.05" y="456.2" width="1.3" height="9.7" fill="#ef5350"/><rect x="1260.80" y="458.1" width="3.8" height="6.6" fill="#ef5350"/><rect x="1267.15" y="446.2" width="1.3" height="23.5" fill="#26a69a"/><rect x="1265.90" y="450.0" width="3.8" height="17.4" fill="#26a69a"/><rect x="1272.25" y="443.5" width="1.3" height="11.2" fill="#ef5350"/><rect x="1271.00" y="446.2" width="3.8" height="8.5" fill="#ef5350"/><rect x="1277.35" y="446.2" width="1.3" height="7.5" fill="#26a69a"/><rect x="1276.10" y="448.7" width="3.8" height="5.0" fill="#26a69a"/><rect x="1282.45" y="442.5" width="1.3" height="16.2" fill="#ef5350"/><rect x="1281.20" y="442.5" width="3.8" height="12.5" fill="#ef5350"/><rect x="1287.55" y="455.2" width="1.3" height="10.7" fill="#26a69a"/><rect x="1286.30" y="459.3" width="3.8" height="1.9" fill="#26a69a"/><rect x="1292.65" y="456.0" width="1.3" height="6.4" fill="#26a69a"/><rect x="1291.40" y="457.2" width="3.8" height="2.1" fill="#26a69a"/><rect x="1297.75" y="447.2" width="1.3" height="10.3" fill="#ef5350"/><rect x="1296.50" y="454.0" width="3.8" height="3.5" fill="#ef5350"/><rect x="1302.85" y="450.0" width="1.3" height="9.7" fill="#ef5350"/><rect x="1301.60" y="456.2" width="3.8" height="3.5" fill="#ef5350"/><rect x="1307.95" y="446.2" width="1.3" height="13.5" fill="#ef5350"/><rect x="1306.70" y="452.7" width="3.8" height="7.0" fill="#ef5350"/><rect x="1313.05" y="438.7" width="1.3" height="23.5" fill="#26a69a"/><rect x="1311.80" y="440.2" width="3.8" height="22.0" fill="#26a69a"/><rect x="1318.15" y="430.3" width="1.3" height="10.6" fill="#26a69a"/><rect x="1316.90" y="432.2" width="3.8" height="7.4" fill="#26a69a"/><rect x="1322.00" y="428.9" width="3.8" height="9.6" fill="#ef5350"/><rect x="1328.35" y="429.1" width="1.3" height="10.5" fill="#26a69a"/><rect x="1327.10" y="430.9" width="3.8" height="8.1" fill="#26a69a"/><rect x="1333.45" y="405.1" width="1.3" height="22.3" fill="#26a69a"/><rect x="1332.20" y="409.9" width="3.8" height="17.5" fill="#26a69a"/><rect x="1338.55" y="405.3" width="1.3" height="9.4" fill="#ef5350"/><rect x="1337.30" y="410.3" width="3.8" height="1.6" fill="#ef5350"/><rect x="1343.65" y="401.2" width="1.3" height="11.6" fill="#26a69a"/><rect x="1342.40" y="403.8" width="3.8" height="3.1" fill="#26a69a"/><rect x="1348.75" y="397.2" width="1.3" height="13.8" fill="#ef5350"/><rect x="1347.50" y="400.3" width="3.8" height="9.2" fill="#ef5350"/><rect x="1353.85" y="402.5" width="1.3" height="10.5" fill="#ef5350"/><rect x="1352.60" y="406.7" width="3.8" height="1.2" fill="#ef5350"/></g>
<line x1="1.2" y1="408.1" x2="1727" y2="408.1" stroke="#ef5350" stroke-width="1.5" stroke-dasharray="1.55 1.4" opacity="0.85"/>
<polygon points="1418.5,419.4 1432.9,408.4 1433.2,414.6 1441.0,414.6 1441.0,424.3 1433.2,424.3 1432.9,430.4" fill="#000" opacity="0.38" filter="url(#blur1)"/><polygon points="1417.2,418.1 1431.6,407.1 1431.9,413.3 1439.7,413.3 1439.7,423.0 1431.9,423.0 1431.6,429.1" fill="#2f8a57" stroke="#1d6a3f" stroke-width="1.15" stroke-linejoin="miter"/>
<polygon points="1418.2,463.1 1432.6,452.1 1432.9,458.3 1440.7,458.3 1440.7,468.0 1432.9,468.0 1432.6,474.1" fill="#000" opacity="0.38" filter="url(#blur1)"/><polygon points="1416.9,461.8 1431.3,450.8 1431.6,457.0 1439.4,457.0 1439.4,466.7 1431.6,466.7 1431.3,472.8" fill="#2f8a57" stroke="#1d6a3f" stroke-width="1.15" stroke-linejoin="miter"/>
<polygon points="1423.5,534.5 1437.9,523.5 1438.2,529.7 1446.0,529.7 1446.0,539.4 1438.2,539.4 1437.9,545.5" fill="#000" opacity="0.38" filter="url(#blur1)"/><polygon points="1422.2,533.2 1436.6,522.2 1436.9,528.4 1444.7,528.4 1444.7,538.1 1436.9,538.1 1436.6,544.2" fill="#2f8a57" stroke="#1d6a3f" stroke-width="1.15" stroke-linejoin="miter"/>
<rect x="1482.7" y="444.4" width="176" height="27.9" fill="none" stroke="#000" stroke-opacity="0.35" stroke-width="1.3" filter="url(#blur05)"/>
<rect x="1481.8" y="443.3" width="176" height="28" fill="none" stroke="#4a4a4a" stroke-width="1.2"/>
<text x="1488.4" y="460.8" font-family='"Liberation Sans", sans-serif' font-weight="bold" font-size="18.2" fill="#000" textLength="161.9" lengthAdjust="spacingAndGlyphs">Hỗ trợ/kháng cự</text>
<text x="797.2" y="55.7" font-family='"Liberation Sans", sans-serif' font-size="16.6" fill="#2828cc" fill-opacity="0.9" textLength="83.3" lengthAdjust="spacingAndGlyphs">1.618(89.84)</text>
<text x="826.0" y="240.5" font-family='"Liberation Sans", sans-serif' font-size="16.6" fill="#808080" fill-opacity="0.9" textLength="54.5" lengthAdjust="spacingAndGlyphs">1(72.26)</text>
<text x="795.7" y="304.3" font-family='"Liberation Sans", sans-serif' font-size="16.6" fill="#2895cc" fill-opacity="0.9" textLength="84.8" lengthAdjust="spacingAndGlyphs">0.786(66.18)</text>
<text x="795.7" y="354.4" font-family='"Liberation Sans", sans-serif' font-size="16.6" fill="#28cc95" fill-opacity="0.9" textLength="84.8" lengthAdjust="spacingAndGlyphs">0.618(61.40)</text>
<text x="812.6" y="389.5" font-family='"Liberation Sans", sans-serif' font-size="16.6" fill="#28cc28" fill-opacity="0.9" textLength="67.9" lengthAdjust="spacingAndGlyphs">0.5(58.04)</text>
<text x="796.0" y="425.6" font-family='"Liberation Sans", sans-serif' font-size="16.6" fill="#95cc28" fill-opacity="0.9" textLength="84.5" lengthAdjust="spacingAndGlyphs">0.382(54.69)</text>
<text x="796.2" y="468.2" font-family='"Liberation Sans", sans-serif' font-size="16.6" fill="#cc2828" fill-opacity="0.9" textLength="84.3" lengthAdjust="spacingAndGlyphs">0.236(50.53)</text>
<text x="825.0" y="539.4" font-family='"Liberation Sans", sans-serif' font-size="16.6" fill="#808080" fill-opacity="0.9" textLength="55.5" lengthAdjust="spacingAndGlyphs">0(43.82)</text>
<rect x="1728" y="5" width="1.8" height="791" fill="#6b6e79"/>
<rect x="1729" y="26.00" width="5.2" height="1.4" fill="#6b6e79"/>
<text x="1776.4" y="33.5" text-anchor="end" font-family='"Liberation Sans", sans-serif' font-size="16.6" fill="#6a6d78" textLength="37" lengthAdjust="spacingAndGlyphs">92.00</text>
<rect x="1729" y="68.30" width="5.2" height="1.4" fill="#6b6e79"/>
<text x="1776.4" y="75.8" text-anchor="end" font-family='"Liberation Sans", sans-serif' font-size="16.6" fill="#6a6d78" textLength="37" lengthAdjust="spacingAndGlyphs">88.00</text>
<rect x="1729" y="109.70" width="5.2" height="1.4" fill="#6b6e79"/>
<text x="1776.4" y="117.2" text-anchor="end" font-family='"Liberation Sans", sans-serif' font-size="16.6" fill="#6a6d78" textLength="37" lengthAdjust="spacingAndGlyphs">84.00</text>
<rect x="1729" y="152.40" width="5.2" height="1.4" fill="#6b6e79"/>
<text x="1776.4" y="159.9" text-anchor="end" font-family='"Liberation Sans", sans-serif' font-size="16.6" fill="#6a6d78" textLength="37" lengthAdjust="spacingAndGlyphs">80.00</text>
<rect x="1729" y="194.80" width="5.2" height="1.4" fill="#6b6e79"/>
<text x="1776.4" y="202.3" text-anchor="end" font-family='"Liberation Sans", sans-serif' font-size="16.6" fill="#6a6d78" textLength="37" lengthAdjust="spacingAndGlyphs">76.00</text>
<rect x="1729" y="235.90" width="5.2" height="1.4" fill="#6b6e79"/>
<text x="1776.4" y="243.4" text-anchor="end" font-family='"Liberation Sans", sans-serif' font-size="16.6" fill="#6a6d78" textLength="37" lengthAdjust="spacingAndGlyphs">72.00</text>
<rect x="1729" y="278.60" width="5.2" height="1.4" fill="#6b6e79"/>
<text x="1776.4" y="286.1" text-anchor="end" font-family='"Liberation Sans", sans-serif' font-size="16.6" fill="#6a6d78" textLength="37" lengthAdjust="spacingAndGlyphs">68.00</text>
<rect x="1729" y="319.60" width="5.2" height="1.4" fill="#6b6e79"/>
<text x="1776.4" y="327.1" text-anchor="end" font-family='"Liberation Sans", sans-serif' font-size="16.6" fill="#6a6d78" textLength="37" lengthAdjust="spacingAndGlyphs">64.00</text>
<rect x="1729" y="362.30" width="5.2" height="1.4" fill="#6b6e79"/>
<text x="1776.4" y="369.8" text-anchor="end" font-family='"Liberation Sans", sans-serif' font-size="16.6" fill="#6a6d78" textLength="37" lengthAdjust="spacingAndGlyphs">60.00</text>
<rect x="1729" y="403.60" width="5.2" height="1.4" fill="#6b6e79"/>
<text x="1776.4" y="411.1" text-anchor="end" font-family='"Liberation Sans", sans-serif' font-size="16.6" fill="#6a6d78" textLength="37" lengthAdjust="spacingAndGlyphs">56.00</text>
<rect x="1729" y="445.80" width="5.2" height="1.4" fill="#6b6e79"/>
<text x="1776.4" y="453.3" text-anchor="end" font-family='"Liberation Sans", sans-serif' font-size="16.6" fill="#6a6d78" textLength="37" lengthAdjust="spacingAndGlyphs">52.00</text>
<rect x="1729" y="488.70" width="5.2" height="1.4" fill="#6b6e79"/>
<text x="1776.4" y="496.2" text-anchor="end" font-family='"Liberation Sans", sans-serif' font-size="16.6" fill="#6a6d78" textLength="37" lengthAdjust="spacingAndGlyphs">48.00</text>
<rect x="1729" y="529.60" width="5.2" height="1.4" fill="#6b6e79"/>
<text x="1776.4" y="537.1" text-anchor="end" font-family='"Liberation Sans", sans-serif' font-size="16.6" fill="#6a6d78" textLength="37" lengthAdjust="spacingAndGlyphs">44.00</text>
<rect x="1729" y="572.30" width="5.2" height="1.4" fill="#6b6e79"/>
<text x="1776.4" y="579.8" text-anchor="end" font-family='"Liberation Sans", sans-serif' font-size="16.6" fill="#6a6d78" textLength="37" lengthAdjust="spacingAndGlyphs">40.00</text>
<rect x="1729" y="613.70" width="5.2" height="1.4" fill="#6b6e79"/>
<text x="1776.4" y="621.2" text-anchor="end" font-family='"Liberation Sans", sans-serif' font-size="16.6" fill="#6a6d78" textLength="37" lengthAdjust="spacingAndGlyphs">36.00</text>
<rect x="1729" y="655.90" width="5.2" height="1.4" fill="#6b6e79"/>
<text x="1776.4" y="663.4" text-anchor="end" font-family='"Liberation Sans", sans-serif' font-size="16.6" fill="#6a6d78" textLength="37" lengthAdjust="spacingAndGlyphs">32.00</text>
<rect x="1729" y="698.40" width="5.2" height="1.4" fill="#6b6e79"/>
<text x="1776.4" y="705.9" text-anchor="end" font-family='"Liberation Sans", sans-serif' font-size="16.6" fill="#6a6d78" textLength="37" lengthAdjust="spacingAndGlyphs">28.00</text>
<rect x="1729" y="739.70" width="5.2" height="1.4" fill="#6b6e79"/>
<text x="1776.4" y="747.2" text-anchor="end" font-family='"Liberation Sans", sans-serif' font-size="16.6" fill="#6a6d78" textLength="37" lengthAdjust="spacingAndGlyphs">24.00</text>
<rect x="1728.5" y="396.1" width="58.6" height="22.9" fill="#ef5350"/>
<rect x="1729" y="407.4" width="5.2" height="1.4" fill="#ffffff"/>
<text x="1776.4" y="413.3" text-anchor="end" font-family='"Liberation Sans", sans-serif' font-size="16.2" fill="#ffffff" textLength="37" lengthAdjust="spacingAndGlyphs">55.70</text>
<rect x="1.2" y="761.9" width="1785.8" height="1.9" fill="#3c3f4b"/>
<rect x="53.6" y="763" width="1.4" height="4.5" fill="#3c3f4b"/>
<text x="23.3" y="788.6" font-family='"Liberation Sans", sans-serif' font-size="16.2" fill="#5d606b" textLength="60.4" lengthAdjust="spacingAndGlyphs">Tháng 10</text>
<rect x="165.8" y="763" width="1.4" height="4.5" fill="#3c3f4b"/>
<text x="136.2" y="788.6" font-family='"Liberation Sans", sans-serif' font-size="16.2" fill="#5d606b" textLength="59.0" lengthAdjust="spacingAndGlyphs">Tháng 11</text>
<rect x="273.3" y="763" width="1.4" height="4.5" fill="#3c3f4b"/>
<text x="221.9" y="788.6" font-family='"Liberation Sans", sans-serif' font-size="16.2" fill="#5d606b" textLength="103.6" lengthAdjust="spacingAndGlyphs">Tháng Mười hai</text>
<rect x="390.8" y="763" width="1.4" height="4.5" fill="#3c3f4b"/>
<text x="374.4" y="788.6" font-family='"Liberation Sans", sans-serif' font-size="16.2" font-weight="bold" fill="#3c3f4b" textLength="33.1" lengthAdjust="spacingAndGlyphs">2021</text>
<rect x="492.1" y="763" width="1.4" height="4.5" fill="#3c3f4b"/>
<text x="459.2" y="788.6" font-family='"Liberation Sans", sans-serif' font-size="16.2" fill="#5d606b" textLength="66.5" lengthAdjust="spacingAndGlyphs">Tháng Hai</text>
<rect x="687.0" y="763" width="1.4" height="4.5" fill="#3c3f4b"/>
<text x="661.4" y="788.6" font-family='"Liberation Sans", sans-serif' font-size="16.2" fill="#5d606b" textLength="52.0" lengthAdjust="spacingAndGlyphs">Tháng 4</text>
<rect x="788.3" y="763" width="1.4" height="4.5" fill="#3c3f4b"/>
<text x="751.6" y="788.6" font-family='"Liberation Sans", sans-serif' font-size="16.2" fill="#5d606b" textLength="73.9" lengthAdjust="spacingAndGlyphs">Tháng Năm</text>
<rect x="890.5" y="763" width="1.4" height="4.5" fill="#3c3f4b"/>
<text x="865.1" y="788.6" font-family='"Liberation Sans", sans-serif' font-size="16.2" fill="#5d606b" textLength="52.0" lengthAdjust="spacingAndGlyphs">Tháng 6</text>
<rect x="1003.3" y="763" width="1.4" height="4.5" fill="#3c3f4b"/>
<text x="977.9" y="788.6" font-family='"Liberation Sans", sans-serif' font-size="16.2" fill="#5d606b" textLength="51.8" lengthAdjust="spacingAndGlyphs">Tháng 7</text>
<rect x="1114.8" y="763" width="1.4" height="4.5" fill="#3c3f4b"/>
<text x="1078.5" y="788.6" font-family='"Liberation Sans", sans-serif' font-size="16.2" fill="#5d606b" textLength="73.0" lengthAdjust="spacingAndGlyphs">Tháng Tám</text>
<rect x="1227.4" y="763" width="1.4" height="4.5" fill="#3c3f4b"/>
<text x="1201.8" y="788.6" font-family='"Liberation Sans", sans-serif' font-size="16.2" fill="#5d606b" textLength="51.8" lengthAdjust="spacingAndGlyphs">Tháng 9</text>
<rect x="1329.8" y="763" width="1.4" height="4.5" fill="#3c3f4b"/>
<text x="1300.0" y="788.6" font-family='"Liberation Sans", sans-serif' font-size="16.2" fill="#5d606b" textLength="60.3" lengthAdjust="spacingAndGlyphs">Tháng 10</text>
<rect x="1437.0" y="763" width="1.4" height="4.5" fill="#3c3f4b"/>
<text x="1407.5" y="788.6" font-family='"Liberation Sans", sans-serif' font-size="16.2" fill="#5d606b" textLength="58.8" lengthAdjust="spacingAndGlyphs">Tháng 11</text>
<rect x="1548.7" y="763" width="1.4" height="4.5" fill="#3c3f4b"/>
<text x="1496.7" y="788.6" font-family='"Liberation Sans", sans-serif' font-size="16.2" fill="#5d606b" textLength="103.8" lengthAdjust="spacingAndGlyphs">Tháng Mười hai</text>
<rect x="1665.8" y="763" width="1.4" height="4.5" fill="#3c3f4b"/>
<text x="1649.7" y="788.6" font-family='"Liberation Sans", sans-serif' font-size="16.2" font-weight="bold" fill="#3c3f4b" textLength="33.1" lengthAdjust="spacingAndGlyphs">2022</text>
<g transform="translate(1757.5,780.4)" stroke="#131722" stroke-width="1.3" fill="none"><circle r="5.6"/><line x1="5.60" y1="0.00" x2="9.20" y2="0.00"/><line x1="3.96" y1="3.96" x2="6.51" y2="6.51"/><line x1="0.00" y1="5.60" x2="0.00" y2="9.20"/><line x1="-3.96" y1="3.96" x2="-6.51" y2="6.51"/><line x1="-5.60" y1="0.00" x2="-9.20" y2="0.00"/><line x1="-3.96" y1="-3.96" x2="-6.51" y2="-6.51"/><line x1="-0.00" y1="-5.60" x2="-0.00" y2="-9.20"/><line x1="3.96" y1="-3.96" x2="6.51" y2="-6.51"/></g>
<circle cx="31.2" cy="724.6" r="20.4" fill="#ffffff" stroke="#e0e0e0" stroke-width="1.2"/>
<path d="M20,731.7 L43.3,731.7 Q45,731.7 45,730 L45,726.6 C45,724.6 43.9,723.3 42.6,723 C42.2,721.3 40.6,720.2 38.8,720.3 C37.8,720.3 36.9,720.7 36.2,721.3 C35.6,718.4 33,716.2 29.6,716.2 C26.1,716.2 23.6,718.5 23.2,721.2 C22.7,721.1 22.1,721 21.6,721 C19.5,721 18.2,723.2 18.2,726 L18.2,729.8 C18.2,731 19,731.7 20,731.7 Z" fill="#3aa2ed"/>
<polyline points="16.5,731.2 28,722 35,728.9 44.5,719.4" fill="none" stroke="#ffffff" stroke-width="1.8" stroke-linejoin="round"/>
<circle cx="28" cy="722" r="2.2" fill="#ffffff"/><circle cx="35" cy="728.9" r="2.2" fill="#ffffff"/>
<rect x="40" y="67.8" width="124" height="2.4" fill="#ffffff" fill-opacity="0.85"/>
<text x="12.9" y="31.9" font-family='"Liberation Sans", sans-serif' font-size="19.6" fill="#131722" textLength="219.8" lengthAdjust="spacingAndGlyphs">CTCP Tập đoàn Hòa Phát</text>
<text x="250.0" y="31.9" font-family='"Liberation Sans", sans-serif' font-size="19.6" fill="#131722" textLength="20.3" lengthAdjust="spacingAndGlyphs">1D</text>
<text x="287.0" y="31.9" font-family='"Liberation Sans", sans-serif' font-size="19.6" fill="#131722" textLength="32.4" lengthAdjust="spacingAndGlyphs">HSX</text>
<circle cx="240.8" cy="25.4" r="1.6" fill="#b2b5be"/><circle cx="278.3" cy="25.4" r="1.6" fill="#b2b5be"/>
<text x="332.5" y="32.8" font-family='"Liberation Sans", sans-serif' font-size="16.5" fill="#ef5350" textLength="50.8" lengthAdjust="spacingAndGlyphs"><tspan fill="#50535e">O</tspan>55.80</text>
<text x="392.4" y="32.8" font-family='"Liberation Sans", sans-serif' font-size="16.5" fill="#ef5350" textLength="50.2" lengthAdjust="spacingAndGlyphs"><tspan fill="#50535e">H</tspan>56.20</text>
<text x="452.3" y="32.8" font-family='"Liberation Sans", sans-serif' font-size="16.5" fill="#ef5350" textLength="46.6" lengthAdjust="spacingAndGlyphs"><tspan fill="#50535e">L</tspan>55.20</text>
<text x="508.9" y="32.8" font-family='"Liberation Sans", sans-serif' font-size="16.5" fill="#ef5350" textLength="49.3" lengthAdjust="spacingAndGlyphs"><tspan fill="#50535e">C</tspan>55.70</text>
<text x="566.8" y="32.8" font-family='"Liberation Sans", sans-serif' font-size="16.5" fill="#ef5350" textLength="38.6" lengthAdjust="spacingAndGlyphs">+0.10</text>
<text x="611.5" y="32.8" font-family='"Liberation Sans", sans-serif' font-size="16.5" fill="#ef5350" textLength="60.7" lengthAdjust="spacingAndGlyphs">(+0.18%)</text>
<rect x="11.7" y="42.7" width="24.6" height="25.4" rx="3" ry="3" fill="#ffffff" stroke="#d1d4dc" stroke-width="1.1"/>
<polyline points="19.6,53.5 24.5,57.6 29.4,53.5" fill="none" stroke="#131722" stroke-width="1.6"/>
<text x="46.2" y="60.3" font-family='"Liberation Sans", sans-serif' font-size="16.8" fill="#b2b5be" textLength="74.8" lengthAdjust="spacingAndGlyphs">Volume 20</text>
<text x="46.2" y="90.1" font-family='"Liberation Sans", sans-serif' font-size="16.8" fill="#b2b5be" textLength="98" lengthAdjust="spacingAndGlyphs">MA 20 close 0</text>
<g transform="translate(146.1,54.7)" fill="none" stroke-linecap="round"><ellipse cx="0" cy="0" rx="9.2" ry="6.6" stroke="#131722" stroke-width="1.35"/><circle cx="0" cy="0" r="3.2" stroke="#131722" stroke-width="1.35"/><line x1="-8" y1="7.9" x2="7.4" y2="-7.2" stroke="#ffffff" stroke-width="4"/><line x1="-8" y1="7.9" x2="7.4" y2="-7.2" stroke="#131722" stroke-width="1.35"/></g>
<g transform="translate(169.2,84.8)" fill="none" stroke-linecap="round"><ellipse cx="0" cy="0" rx="9.2" ry="6.6" stroke="#131722" stroke-width="1.35"/><circle cx="0" cy="0" r="3.2" stroke="#131722" stroke-width="1.35"/><line x1="-8" y1="7.9" x2="7.4" y2="-7.2" stroke="#ffffff" stroke-width="4"/><line x1="-8" y1="7.9" x2="7.4" y2="-7.2" stroke="#131722" stroke-width="1.35"/></g>
<circle cx="1573.1" cy="27.2" r="3.8" fill="#8a8a8a"/>
<text x="1581.8" y="31.9" font-family='"Liberation Sans", sans-serif' font-size="16" fill="#8a8a8a" textLength="138.6" lengthAdjust="spacingAndGlyphs">Thị trường Đóng cửa</text>
</svg>
</body></html>
